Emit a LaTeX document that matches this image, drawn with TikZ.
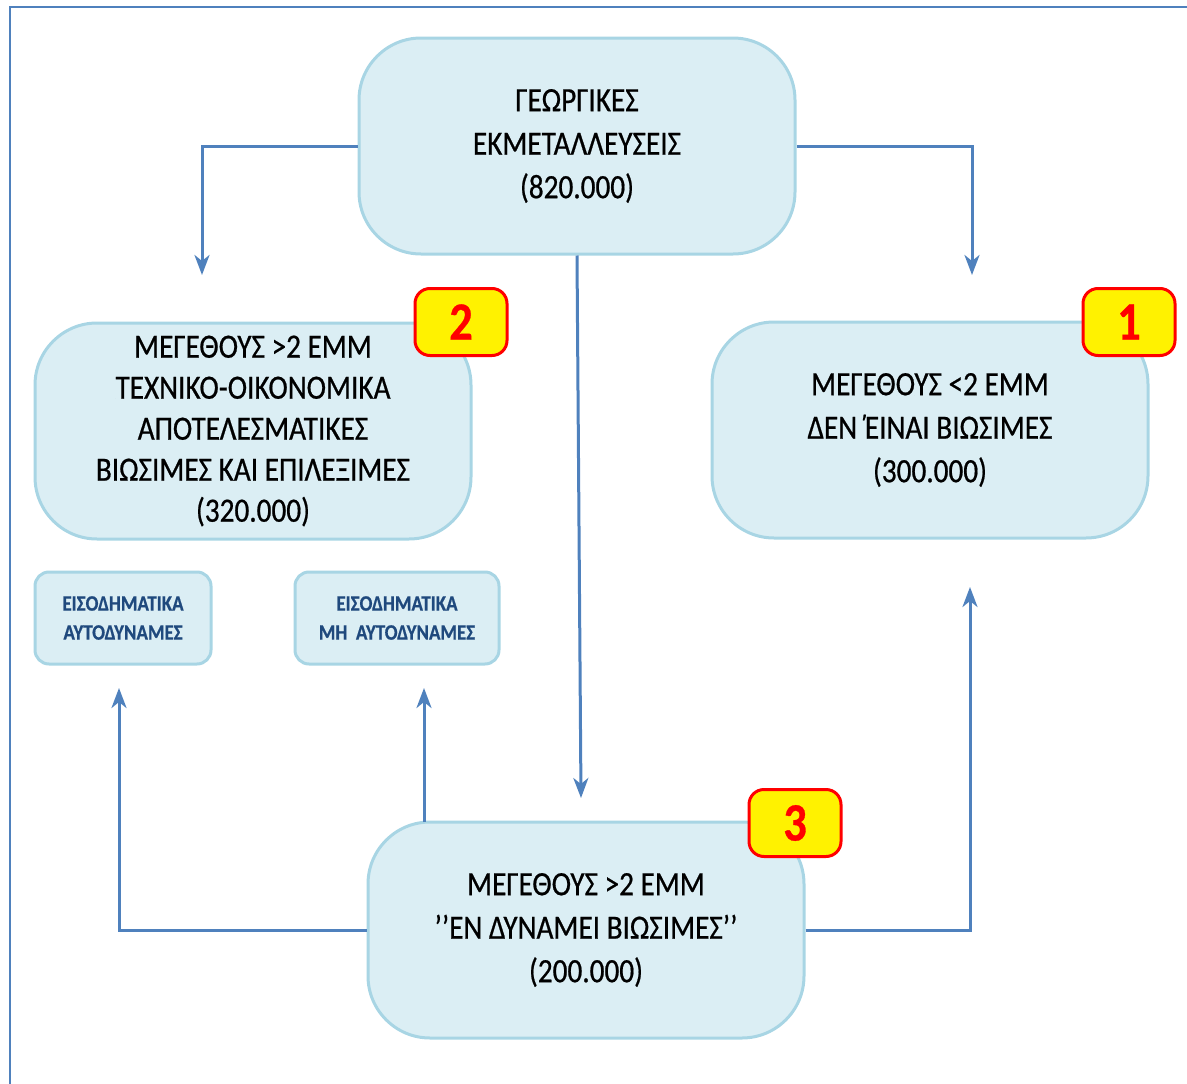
\documentclass[tikz,border=0pt]{standalone}
\usepackage{fontspec}
\setmainfont{Carlito}
\newfontfamily\tallfont[FakeStretch=0.86,FakeBold=0.6]{Carlito}
\usetikzlibrary{arrows.meta}

\definecolor{boxfill}{RGB}{219,238,244}
\definecolor{boxline}{RGB}{168,213,228}
\definecolor{flowline}{RGB}{79,129,189}
\definecolor{smalltext}{RGB}{31,73,125}

\tikzset{
  bigbox/.style={draw=boxline,fill=boxfill,line width=3pt,rounded corners=62pt,
    minimum width=436pt,minimum height=216pt,align=center,
    font=\tallfont\fontsize{34}{43.5}\selectfont},
  smallbox/.style={draw=boxline,fill=boxfill,line width=3pt,rounded corners=14pt,
    minimum height=92pt,align=center,text=smalltext,
    font=\tallfont\bfseries\fontsize{22}{29}\selectfont},
  badge/.style={draw=red,fill=yellow,line width=3pt,rounded corners=15pt,
    minimum width=92pt,minimum height=67pt,text=red,
    font=\tallfont\bfseries\fontsize{54}{54}\selectfont},
  flow/.style={draw=flowline,line width=3pt,-{Stealth[length=20pt,width=15pt,inset=6pt]}}
}

\begin{document}
\begin{tikzpicture}[x=1pt,y=-1pt]
\useasboundingbox (0,0) rectangle (1187,1084);

% frame, only left and top edges show
\draw[flowline,line width=2.5pt] (10,1084)--(10,7)--(1187,7);

% the four big boxes
\node[bigbox] (farms) at (577,146) {ΓΕΩΡΓΙΚΕΣ\\ΕΚΜΕΤΑΛΛΕΥΣΕΙΣ\\(820.000)};
\node[bigbox,font=\tallfont\fontsize{34}{41}\selectfont] (viable) at (253,431) {ΜΕΓΕΘΟΥΣ >2 ΕΜΜ\\ΤΕΧΝΙΚΟ-ΟΙΚΟΝΟΜΙΚΑ\\ΑΠΟΤΕΛΕΣΜΑΤΙΚΕΣ\\ΒΙΩΣΙΜΕΣ ΚΑΙ ΕΠΙΛΕΞΙΜΕΣ\\(320.000)};
\node[bigbox] (nonviable) at (930,430) {ΜΕΓΕΘΟΥΣ <2 ΕΜΜ\\ΔΕΝ \kern-0.14em΄\kern-0.1emΕΙΝΑΙ ΒΙΩΣΙΜΕΣ\\(300.000)};
\node[bigbox] (potential) at (586,930) {ΜΕΓΕΘΟΥΣ >2 ΕΜΜ\\’’ΕΝ ΔΥΝΑΜΕΙ ΒΙΩΣΙΜΕΣ’’\\(200.000)};

% the two small boxes
\node[smallbox,minimum width=176pt] (autonomous) at (123,618) {ΕΙΣΟΔΗΜΑΤΙΚΑ\\ΑΥΤΟΔΥΝΑΜΕΣ};
\node[smallbox,minimum width=204pt] (nonautonomous) at (397,618) {ΕΙΣΟΔΗΜΑΤΙΚΑ\\ΜΗ\ \ ΑΥΤΟΔΥΝΑΜΕΣ};

\foreach \n/\x/\y in {1/1129/322,2/461/322,3/795/823}{% numbered badges
    \node[badge] (badge\n) at (\x,\y) {\n};}

% free ends of the arrows
\coordinate (viabletip) at (202,275);
\coordinate (nonviabletip) at (972,275);
\coordinate (potentialtip) at (581,798);
\coordinate (autotip) at (119,688);
\coordinate (nonautotip) at (424,688);
\coordinate (backtip) at (970,587);
\coordinate (nonautofoot) at (424,822);

\draw[flow] (farms.west) -| (viabletip);
\draw[flow] (farms.east) -| (nonviabletip);
\draw[flow] (farms.south) -- (potentialtip);
\draw[flow] (potential.west) -| (autotip);
\draw[flow] (nonautofoot) -- (nonautotip);
\draw[flow] (potential.east) -| (backtip);

\end{tikzpicture}
\end{document}
